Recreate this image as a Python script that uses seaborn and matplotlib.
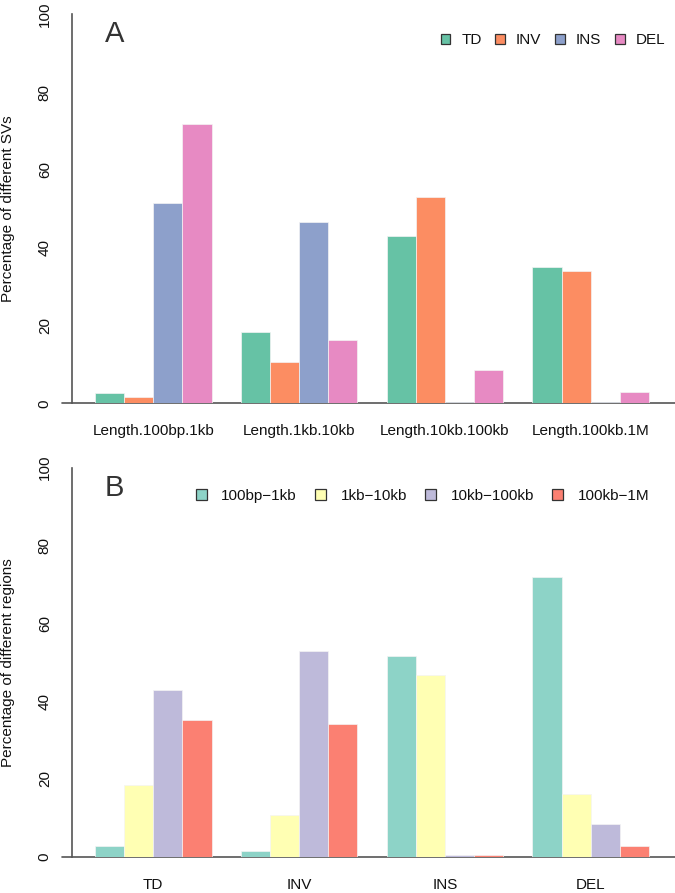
# SV percentages: panel A by length bin, panel B by SV type
import pandas as pd
import matplotlib
matplotlib.use('Agg')
import matplotlib.pyplot as plt
from matplotlib.patches import Patch
import seaborn as sns

# dados
sv_types = ['TD', 'INV', 'INS', 'DEL']
length_bins = ['Length.100bp.1kb', 'Length.1kb.10kb', 'Length.10kb.100kb', 'Length.100kb.1M']
length_names = ['100bp\u22121kb', '1kb\u221210kb', '10kb\u2212100kb', '100kb\u22121M']
td = [2.7, 18.4, 42.9, 35.1]
inv = [1.5, 10.7, 53.0, 34.1]
ins = [51.5, 46.6, 0.4, 0.4]
dele = [71.8, 16.2, 8.5, 2.8]

colors_a = ['#66C2A5', '#FC8D62', '#8DA0CB', '#E78AC3']
colors_b = ['#8DD3C7', '#FFFFB3', '#BEBADA', '#FB8072']

values = {'TD': td, 'INV': inv, 'INS': ins, 'DEL': dele}
rows = []
for t in sv_types:
    for i, b in enumerate(length_bins):
        rows.append({'type': t, 'bin': b, 'name': length_names[i], 'pct': values[t][i]})
df = pd.DataFrame(rows)

sns.set_style('white')
plt.rcParams['font.family'] = ['Liberation Sans', 'DejaVu Sans']
plt.rcParams['font.size'] = 11
plt.rcParams['text.color'] = '#111111'
plt.rcParams['axes.labelcolor'] = '#111111'
plt.rcParams['xtick.labelcolor'] = '#111111'
plt.rcParams['ytick.labelcolor'] = '#111111'

W, H = 675, 893
fig = plt.figure(figsize=(W / 100, H / 100), dpi=100)

axis_col = '#555555'


def panel(top_px, bottom_px, x, hue, order, hue_order, colors, labels, ylabel, letter, leg_kw):
    ax = fig.add_axes([62 / W, 1 - bottom_px / H, 613 / W, (bottom_px - top_px) / H])
    sns.barplot(data=df, x=x, y='pct', hue=hue, order=order, hue_order=hue_order,
                palette=colors, saturation=1, edgecolor='#f4f4f4', linewidth=0.5,
                width=0.8, legend=False, ax=ax, zorder=3)
    ax.set_xlim(-0.626, 3.578)
    ax.set_ylim(0, 100)
    ax.set_yticks([0, 20, 40, 60, 80, 100])
    for s in ['top', 'right', 'bottom']:
        ax.spines[s].set_visible(False)
    ax.spines['left'].set_position(('axes', 10 / 613))
    ax.spines['left'].set_color(axis_col)
    ax.spines['left'].set_linewidth(1.2)
    ax.axhline(0, color=axis_col, lw=1.2, clip_on=False, zorder=1)
    ax.tick_params(axis='y', length=6.5, width=1, color=axis_col, pad=8, labelsize=11)
    ax.tick_params(axis='x', length=0, pad=15, labelsize=11)
    for lab in ax.get_yticklabels():
        lab.set_rotation(90)
        lab.set_va('center')
    ax.set_xlabel('')
    ax.set_ylabel(ylabel, fontsize=11)
    ax.yaxis.set_label_coords(-0.077, 0.5)
    ax.text(0.07, 0.985, letter, transform=ax.transAxes, fontsize=21, color='#333333',
            va='top', ha='left')
    handles = [Patch(facecolor=c, edgecolor='#333333', linewidth=0.9) for c in colors]
    ax.legend(handles, labels, ncol=4, frameon=False, loc='center right',
              borderpad=0, borderaxespad=0, fontsize=11, **leg_kw)
    return ax


panel(14.3, 403.3, 'bin', 'type', length_bins, sv_types, colors_a, sv_types,
      'Percentage of different SVs', 'A',
      dict(bbox_to_anchor=(665 / W, 1 - 40 / H), bbox_transform=fig.transFigure,
           handlelength=0.65, handleheight=0.65, handletextpad=0.7, columnspacing=0.9))

panel(467.7, 856.7, 'type', 'name', sv_types, length_names, colors_b, length_names,
      'Percentage of different regions', 'B',
      dict(bbox_to_anchor=(649 / W, 1 - 496 / H), bbox_transform=fig.transFigure,
           handlelength=0.7, handleheight=0.7, handletextpad=0.95, columnspacing=1.2))

fig.savefig('out.png', dpi=100)
